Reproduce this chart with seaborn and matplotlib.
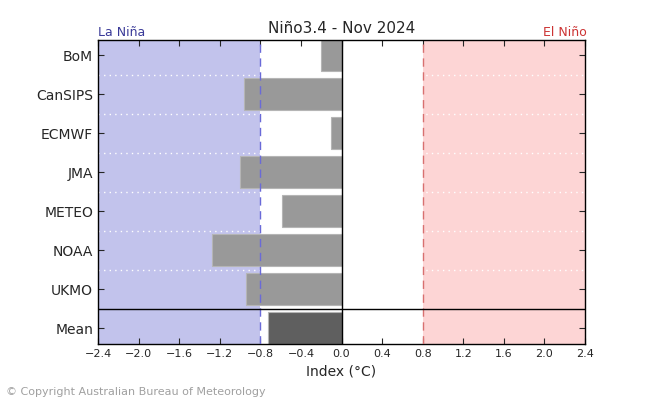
import matplotlib
matplotlib.use('Agg')
import matplotlib.pyplot as plt
import numpy as np
import pandas as pd
import seaborn as sns

# Model outlooks for Nino3.4, Nov 2024
models = ['BoM', 'CanSIPS', 'ECMWF', 'JMA', 'METEO', 'NOAA', 'UKMO', 'Mean']
values = [-0.20, -0.96, -0.10, -1.00, -0.59, -1.28, -0.94, -0.72]
bar_colors = ['#999999'] * 7 + ['#5f5f5f']
x_ticks = [-2.4, -2.0, -1.6, -1.2, -0.8, -0.4, 0.0, 0.4, 0.8, 1.2, 1.6, 2.0, 2.4]
threshold = 0.8

df = pd.DataFrame({'model': models, 'index': values})

sns.set_style('ticks')
plt.rcParams['font.family'] = ['DejaVu Sans']

fig = plt.figure(figsize=(6.5, 4), dpi=100)
ax = fig.add_axes([0.1508, 0.14, 0.7492, 0.76])

# La Nina / El Nino shading
ax.axvspan(-2.4, -threshold, color='#c2c3ec', lw=0, zorder=0)
ax.axvspan(threshold, 2.4, color='#fdd5d5', lw=0, zorder=0)

# dotted separators between models
for y in np.arange(0.5, 6.5, 1.0):
    ax.axhline(y, color='white', ls=(0, (1, 3)), lw=1, zorder=1)

sns.barplot(data=df, x='index', y='model', hue='model', palette=bar_colors,
            orient='h', width=0.82, legend=False, ax=ax,
            edgecolor='#b5b5b5', linewidth=0.8, zorder=2)

ax.axvline(-threshold, color='#6a6ad8', ls=(0, (6, 4)), lw=1, zorder=3)
ax.axvline(threshold, color='#d87070', ls=(0, (6, 4)), lw=1, zorder=3)
ax.axvline(0, color='black', lw=1, zorder=4)
ax.axhline(6.5, color='black', lw=1, zorder=4)

ax.set_xlim(-2.4, 2.4)
ax.set_ylim(7.41, -0.39)
ax.set_xticks(x_ticks)
ax.set_xticklabels([f'{t:.1f}'.replace('-', '\u2212') for t in x_ticks], fontsize=8)
ax.tick_params(axis='y', labelsize=10)
ax.tick_params(direction='in', top=True, right=True, length=4, width=0.8)
ax.set_ylabel('')
ax.set_xlabel('Index (\u00b0C)', fontsize=10)
for s in ax.spines.values():
    s.set_visible(True)
    s.set_linewidth(1)
    s.set_color('black')

ax.set_title('Ni\u00f1o3.4 - Nov 2024', fontsize=11, pad=5)
ax.text(0.0, 1.003, 'La Ni\u00f1a', transform=ax.transAxes, color='#3a3a98',
        fontsize=9, ha='left', va='bottom')
ax.text(1.003, 1.003, 'El Ni\u00f1o', transform=ax.transAxes, color='#cc3333',
        fontsize=9, ha='right', va='bottom')
fig.text(0.009, 0.008, '\u00a9 Copyright Australian Bureau of Meteorology',
         color='#a0a0a0', fontsize=8, ha='left', va='bottom')

fig.savefig('out.png', dpi=100)
